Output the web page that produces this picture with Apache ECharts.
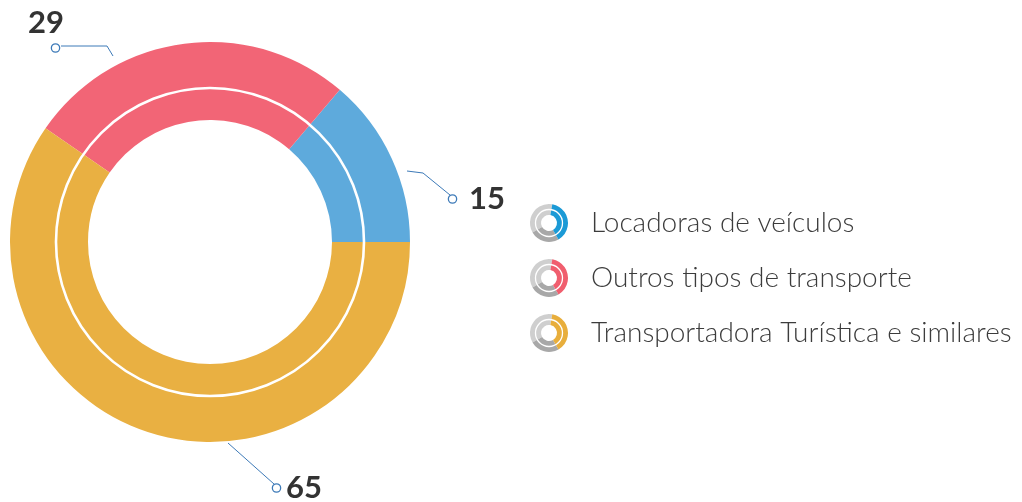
<!DOCTYPE html>
<html>
<head>
<meta charset="utf-8">
<script src="https://cdn.jsdelivr.net/npm/echarts@6/dist/echarts.min.js"></script>
<style>
  html, body { margin: 0; padding: 0; background: #fff; }
  #main { width: 1022px; height: 502px; }
</style>
</head>
<body>
<div id="main"></div>
<script>
// categorias e valores
const categories = ['Locadoras de veículos', 'Outros tipos de transporte', 'Transportadora Turística e similares'];
const values = [15, 29, 65];
const sliceColors = ['#5eaadc', '#f26576', '#e9b042'];
const legendColors = ['#1b9ad6', '#f05e6e', '#e8ae3c'];

const lineColor = '#3d7ab8';
const deg = Math.PI / 180;

let chart = echarts.init(document.getElementById('main'), null, { renderer: 'canvas' });

// posição dos rótulos (x, y, alinhamento, pontos da linha guia)
const labelPlaces = [
  { x: 449, y: 199, align: 'left', verticalAlign: 'middle', line: [[407, 171], [423, 173], [450, 195]] },
  { x: 28, y: 8, align: 'left', verticalAlign: 'top', line: [[113, 56], [107, 46], [61, 46]] },
  { x: 273, y: 488, align: 'left', verticalAlign: 'middle', line: [[228, 443], [274, 484]] }
];

const numStyle = { fontFamily: 'Lato', fontWeight: 'bold', fontSize: 31, color: '#333333' };
const dotStyle = {
  width: 7, height: 7, borderRadius: 4,
  borderColor: lineColor, borderWidth: 1.3, backgroundColor: '#ffffff'
};

// ícones da legenda (mini rosca)
let legendIcons = [];
categories.forEach((name, i) => {
  let cx = 549, cy = 223 + 55 * i;
  legendIcons.push({
    type: 'group', z: 100,
    children: [
      { type: 'sector', shape: { cx, cy, r0: 8, r: 19, startAngle: -210 * deg, endAngle: -80 * deg }, style: { fill: '#cfcfcf' } },
      { type: 'sector', shape: { cx, cy, r0: 8, r: 19, startAngle: 60 * deg, endAngle: 150 * deg }, style: { fill: '#a8a8a8' } },
      { type: 'sector', shape: { cx, cy, r0: 8, r: 19, startAngle: -80 * deg, endAngle: 60 * deg }, style: { fill: legendColors[i] } },
      { type: 'circle', shape: { cx, cy, r: 13.5 }, style: { fill: 'none', stroke: '#fff', lineWidth: 1.3 } }
    ]
  });
});

let option = {
  backgroundColor: '#ffffff',
  animation: false,
  legend: {
    orient: 'vertical',
    left: 529,
    top: 199,
    itemWidth: 66,
    itemHeight: 38,
    itemGap: 17,
    icon: 'circle',
    selectedMode: false,
    itemStyle: { color: 'rgba(0,0,0,0)', borderWidth: 0 },
    textStyle: { fontFamily: 'Lato', fontWeight: 300, fontSize: 28, color: '#3c3c3c' },
    data: categories
  },
  graphic: [
    {
      type: 'circle', z: 100,
      shape: { cx: 210, cy: 242, r: 154 },
      style: { fill: 'none', stroke: '#ffffff', lineWidth: 2.6 }
    }
  ].concat(legendIcons),
  series: [{
    type: 'pie',
    center: [210, 242],
    radius: [122, 200],
    startAngle: 0,
    clockwise: false,
    silent: true,
    emphasis: { disabled: true },
    itemStyle: { borderWidth: 0 },
    label: {
      show: true,
      position: 'outside',
      formatter: p => {
        if (p.dataIndex === 1) return `{v|${p.value}}\n{sp|}{dot|}`;
        return p.dataIndex === 0 ? `{dot|}{gapL|}{v|${p.value}}` : `{dot|}{gapS|}{v|${p.value}}`;
      },
      rich: {
        v: Object.assign({ lineHeight: 30 }, numStyle),
        dot: dotStyle,
        sp: { width: 24, height: 20, lineHeight: 20 },
        gapL: { width: 13 },
        gapS: { width: 6 }
      }
    },
    labelLine: { show: true, lineStyle: { color: lineColor, width: 1 } },
    labelLayout: params => {
      let p = labelPlaces[params.dataIndex];
      return { x: p.x, y: p.y, align: p.align, verticalAlign: p.verticalAlign, labelLinePoints: p.line };
    },
    data: categories.map((name, i) => ({
      name,
      value: values[i],
      itemStyle: { color: sliceColors[i] }
    }))
  }]
};

chart.setOption(option);
</script>
</body>
</html>
